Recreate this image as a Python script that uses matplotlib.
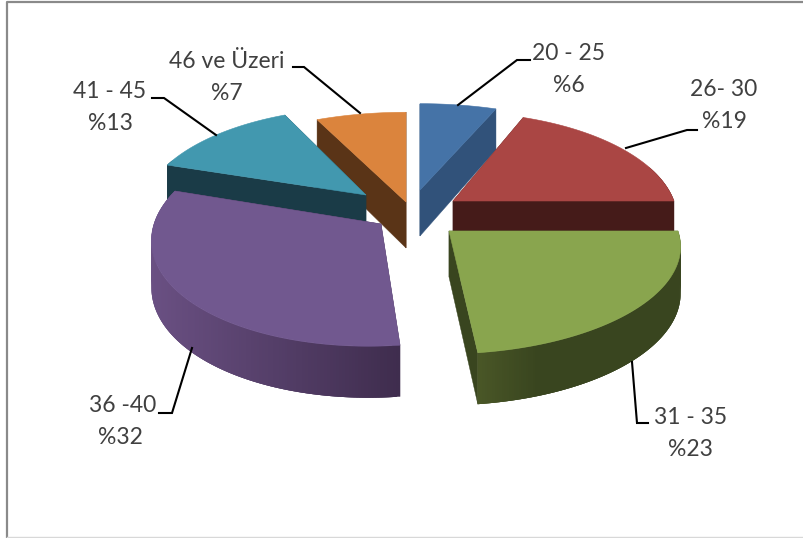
import numpy as np
import matplotlib
matplotlib.use('Agg')
import matplotlib.pyplot as plt
from matplotlib.collections import PolyCollection
from matplotlib.colors import to_rgb

plt.rcParams['font.family'] = ['Lato', 'DejaVu Sans']

# chart values
labels = ['20 - 25', '26- 30', '31 - 35', '36 -40', '41 - 45', '46 ve Üzeri']
values = [6, 19, 23, 32, 13, 7]
pct_labels = ['%6', '%19', '%23', '%32', '%13', '%7']

# colours
top_colors = ['#4573a7', '#aa4644', '#89a54e', '#71588f', '#4298af', '#db843d']
side_colors = ['#31527a', '#451b19', '#39451f', '#3f2d4e', '#1a3b47', '#5a3417']
wall_light = ['#31527a', '#451b19', '#4a5727', '#6a5083', '#1a3b47', '#5a3417']

# per slice placement in pixels
apex_x = [420, 453, 449, 381, 366, 406]
apex_y = [190, 201, 231, 224, 195, 202]
rad_x = [239, 221, 229, 227, 220, 241]
rad_y = [101, 104, 102, 110, 102, 105]
shear = [0, 0, 4.8, 11.4, 0, 0]
persp = [0.17, 0.17, 0.17, 0.10, 0.17, 0.17]
draw_order = [5, 4, 0, 1, 2, 3]

# label placement
label_x = [569, 724, 691, 123, 110, 227]
label_y = [54, 90, 418, 406, 91, 61]
pct_x = [569, 724, 690, 120, 110, 227]
pct_y = [86, 122, 450, 438, 123, 93]
leaders = [
    [(530, 60), (517, 60), (458, 105)],
    [(697, 130), (687, 130), (626, 148)],
    [(648, 423), (637, 423), (632, 362)],
    [(159, 413), (172, 413), (192, 348)],
    [(152, 98), (164, 98), (216, 135)],
    [(293, 67), (304, 67), (360, 113)],
]


def project(i, theta):
    x, y = np.sin(theta), np.cos(theta)
    w = 1 + persp[i] * y
    px = apex_x[i] + (rad_x[i] * x + shear[i] * y) / w
    py = apex_y[i] - rad_y[i] * y / w
    return px, py, y


def depth(y):
    return 46 - 5.5 * y


fig = plt.figure(figsize=(8.04, 5.38), dpi=100)
ax = fig.add_axes([0, 0, 1, 1])
ax.set_xlim(0, 804)
ax.set_ylim(538, 0)
ax.axis('off')

# frame
ax.plot([7, 7, 804], [538, 2, 2], color='#8a8a8a', lw=1.6, solid_capstyle='butt')
ax.plot([7, 804], [537, 537], color='#d8d8d8', lw=1)

edges = np.concatenate([[0], np.cumsum(values)]) / np.sum(values) * 2 * np.pi

for z, i in enumerate(draw_order):
    th = np.linspace(edges[i], edges[i + 1], 160)
    px, py, y = project(i, th)

    # flat cut faces
    for k in [0, -1]:
        face = [(apex_x[i], apex_y[i]), (px[k], py[k]), (px[k], py[k] + depth(y[k])),
                (apex_x[i], apex_y[i] + depth(0))]
        ax.fill(*zip(*face), color=side_colors[i], lw=0.3, zorder=z * 3)

    # outer wall, shaded along its length, quads overlap so no seams show
    quads, cols = [], []
    c0, c1 = np.array(to_rgb(wall_light[i])), np.array(to_rgb(side_colors[i]))
    span = px.max() - px.min()
    fade = np.clip((px - px.min()) / (0.3 * span if i == 2 else span), 0, 1)
    for j in range(len(th) - 1):
        if y[j] > 0.35:
            continue
        n = min(j + 3, len(th) - 1)
        quads.append([(px[j], py[j]), (px[n], py[n]),
                      (px[n], py[n] + depth(y[n])), (px[j], py[j] + depth(y[j]))])
        cols.append(c0 + (c1 - c0) * fade[j])
    if quads:
        ax.add_collection(PolyCollection(quads, facecolors=cols, edgecolors='none', zorder=z * 3 + 1))

    # top surface
    ax.fill(np.r_[apex_x[i], px], np.r_[apex_y[i], py], color=top_colors[i], lw=0.4, zorder=z * 3 + 2)

for pts in leaders:
    ax.plot(*zip(*pts), color='black', lw=1.5, zorder=30, solid_joinstyle='miter')

for i in range(len(values)):
    ax.text(label_x[i], label_y[i], labels[i], ha='center', va='center', fontsize=16.5, color='#404040', zorder=31)
    ax.text(pct_x[i], pct_y[i], pct_labels[i], ha='center', va='center', fontsize=16.5, color='#404040', zorder=31)

fig.savefig('out.png', dpi=100)
